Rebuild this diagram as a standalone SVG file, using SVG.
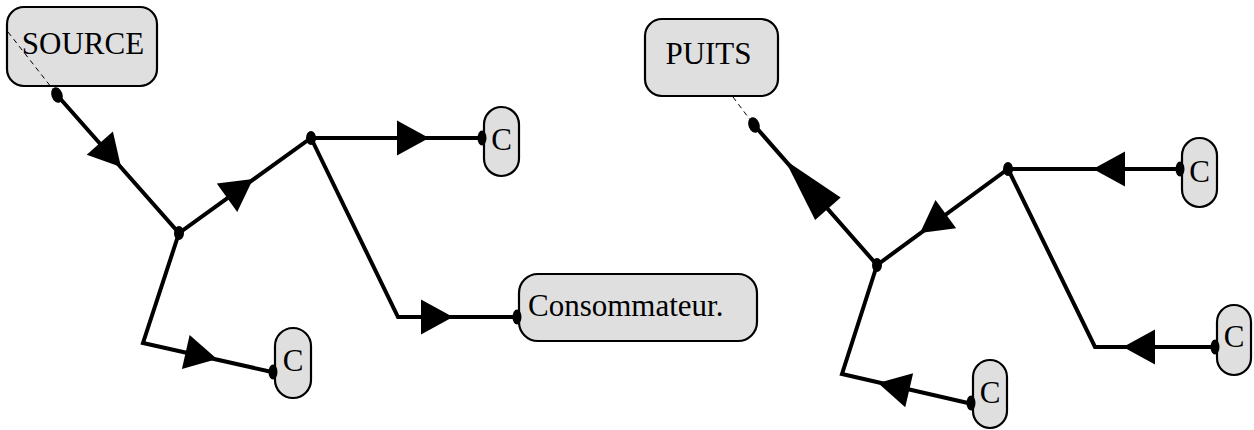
<svg xmlns="http://www.w3.org/2000/svg" width="1254" height="430" viewBox="0 0 1254 430">
<style>
.box{fill:#dfdfdf;stroke:#000;stroke-width:2.2}
.lbl{font-family:"Liberation Serif","Times New Roman",serif;font-size:31px;fill:#000}
.wire{fill:none;stroke:#000;stroke-width:4;stroke-linejoin:miter}
.dash{fill:none;stroke:#000;stroke-width:1;stroke-dasharray:5,4}
.dot{fill:#000}
.ah{fill:#000}
</style>
<defs>
<path id="ah" class="ah" d="M0,0 L-32,-17.5 L-32,17.5 Z"/>
<path id="ahl" class="ah" d="M0,0 L-65,-17 L-65,17 Z"/>
</defs>
<rect width="1254" height="430" fill="#fff"/>
<g id="nodes">
<g id="source"><rect class="box" x="7" y="7" width="150" height="79" rx="17"/><text class="lbl" x="83" y="54" text-anchor="middle">SOURCE</text></g>
<g id="c1"><rect class="box" x="484" y="107" width="35" height="69" rx="17.5"/><text class="lbl" x="501.5" y="150" text-anchor="middle">C</text></g>
<g id="consommateur"><rect class="box" x="519" y="274" width="238" height="67" rx="19"/><text class="lbl" x="528" y="316">Consommateur.</text></g>
<g id="c2"><rect class="box" x="275" y="328" width="36" height="70" rx="18"/><text class="lbl" x="293" y="371" text-anchor="middle">C</text></g>
<g id="puits"><rect class="box" x="645" y="19" width="133" height="77" rx="17"/><text class="lbl" x="708.5" y="64" text-anchor="middle">PUITS</text></g>
<g id="c3"><rect class="box" x="1182" y="138" width="35" height="69" rx="17.5"/><text class="lbl" x="1199.5" y="182" text-anchor="middle">C</text></g>
<g id="c4"><rect class="box" x="1217" y="305" width="34" height="70" rx="17"/><text class="lbl" x="1234" y="347" text-anchor="middle">C</text></g>
<g id="c5"><rect class="box" x="973" y="360" width="34" height="68" rx="17"/><text class="lbl" x="990" y="403" text-anchor="middle">C</text></g>
</g>
<g id="connectors">
<line class="dash" x1="8" y1="32" x2="55" y2="92"/>
<line class="dash" x1="733" y1="97" x2="751" y2="121"/>
<polyline class="wire" points="57,95 179,233 311,138 481,138"/>
<polyline class="wire" points="179,233 143,343 272,372"/>
<polyline class="wire" points="311,138 398,317 516,317"/>
<polyline class="wire" points="754,125 877,265 1008,169 1179,169"/>
<polyline class="wire" points="877,265 842,374 968,403"/>
<polyline class="wire" points="1008,169 1095,347 1214,347"/>
<use href="#ah" transform="translate(121,167) rotate(48.5)"/>
<use href="#ah" transform="translate(253,179) rotate(-35.7)"/>
<use href="#ah" transform="translate(429,138)"/>
<use href="#ah" transform="translate(217,359) rotate(12.7)"/>
<use href="#ah" transform="translate(453,317)"/>
<use href="#ahl" transform="translate(785,160) rotate(-131.3)"/>
<use href="#ah" transform="translate(920,233) rotate(143.8)"/>
<use href="#ah" transform="translate(1093,169) rotate(180)"/>
<use href="#ah" transform="translate(1123,347) rotate(180)"/>
<use href="#ah" transform="translate(878,383) rotate(193)"/>
<ellipse class="dot" cx="57" cy="95" rx="5.5" ry="8" transform="rotate(-20 57 95)"/>
<ellipse class="dot" cx="179" cy="233" rx="5" ry="7"/>
<ellipse class="dot" cx="311" cy="138" rx="5" ry="7"/>
<ellipse class="dot" cx="482" cy="138" rx="4.5" ry="7.5"/>
<ellipse class="dot" cx="273" cy="372" rx="4.5" ry="7.5"/>
<ellipse class="dot" cx="517" cy="317" rx="4.5" ry="7.5"/>
<ellipse class="dot" cx="754" cy="125" rx="5.5" ry="8" transform="rotate(-20 754 125)"/>
<ellipse class="dot" cx="877" cy="265" rx="5" ry="7"/>
<ellipse class="dot" cx="1008" cy="169" rx="5" ry="7"/>
<ellipse class="dot" cx="1180" cy="169" rx="4.5" ry="7.5"/>
<ellipse class="dot" cx="1215" cy="347" rx="4.5" ry="7.5"/>
<ellipse class="dot" cx="971" cy="403" rx="4.5" ry="7.5"/>
</g>
</svg>
